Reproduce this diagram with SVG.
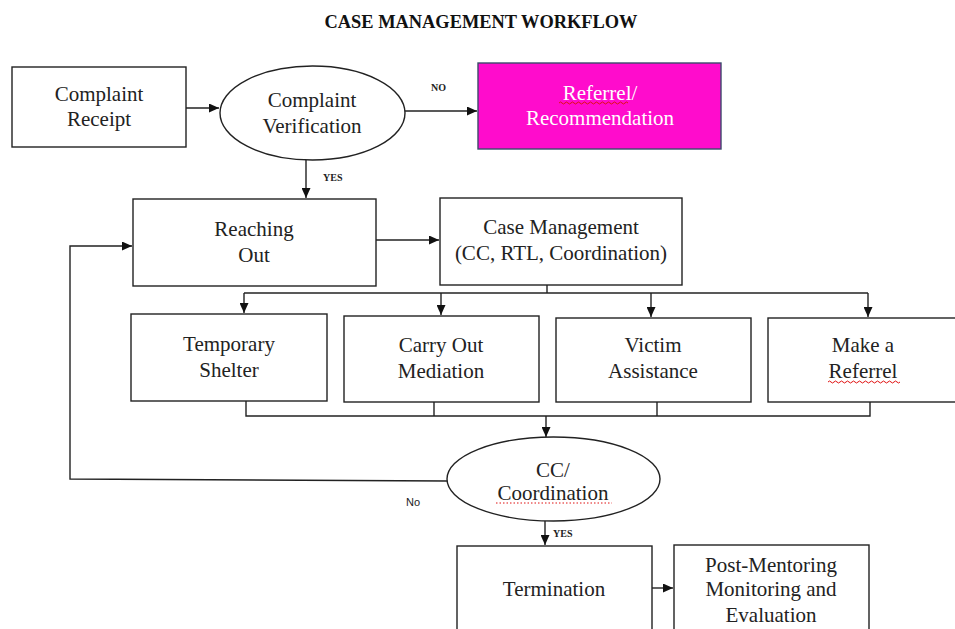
<svg xmlns="http://www.w3.org/2000/svg" width="955" height="629" viewBox="0 0 955 629">
<defs>
<marker id="ah" markerUnits="userSpaceOnUse" markerWidth="11" markerHeight="9" refX="10" refY="4.5" orient="auto">
<path d="M0,0 L10,4.5 L0,9 z" fill="#111"/>
</marker>
<style>
.box{fill:#fff;stroke:#222;stroke-width:1.4}
.lbl{font-family:"Liberation Serif","Times New Roman",serif;font-size:21px;fill:#222;text-anchor:middle}
.wht{fill:#fff}
.con{fill:none;stroke:#222;stroke-width:1.4}
.arr{marker-end:url(#ah)}
.sm{font-family:"Liberation Serif","Times New Roman",serif;font-size:10px;fill:#222;font-weight:bold}
.smsans{font-family:"Liberation Sans",Arial,sans-serif;font-size:11px;fill:#222}
.sq{fill:none;stroke:#e01010;stroke-width:1}
</style>
</defs>
<rect width="955" height="629" fill="#fff"/>
<text x="481" y="28" font-family="'Liberation Serif','Times New Roman',serif" font-size="18" font-weight="bold" text-anchor="middle" textLength="313" lengthAdjust="spacingAndGlyphs" fill="#111">CASE MANAGEMENT WORKFLOW</text>

<g id="complaint-receipt">
<rect class="box" x="12" y="67" width="174" height="80"/>
<text class="lbl" x="99" y="101">Complaint</text>
<text class="lbl" x="99" y="126">Receipt</text>
</g>
<g id="complaint-verification">
<ellipse class="box" cx="312.5" cy="113" rx="92.5" ry="47"/>
<text class="lbl" x="312" y="107">Complaint</text>
<text class="lbl" x="312" y="133">Verification</text>
</g>
<g id="referrel-recommendation">
<rect x="478" y="63" width="243" height="86" fill="#ff0ccc" stroke="#3b4a6b" stroke-width="1.4"/>
<text class="lbl wht" x="600" y="100">Referrel/</text>
<text class="lbl wht" x="600" y="125">Recommendation</text>
<path class="sq" d="M559,103 q1.5,-2 3,0 t3,0 t3,0 t3,0 t3,0 t3,0 t3,0 t3,0 t3,0 t3,0 t3,0 t3,0 t3,0 t3,0 t3,0 t3,0 t3,0 t3,0 t3,0 t3,0 t3,0 t3,0 t3,0"/>
</g>
<g id="reaching-out">
<rect class="box" x="133" y="199" width="243" height="87"/>
<text class="lbl" x="254" y="236">Reaching</text>
<text class="lbl" x="254" y="262">Out</text>
</g>
<g id="case-management">
<rect class="box" x="440" y="198" width="242" height="87"/>
<text class="lbl" x="561" y="234">Case Management</text>
<text class="lbl" x="561" y="260">(CC, RTL, Coordination)</text>
</g>
<g id="temporary-shelter">
<rect class="box" x="131" y="314" width="196" height="87"/>
<text class="lbl" x="229" y="351">Temporary</text>
<text class="lbl" x="229" y="377">Shelter</text>
</g>
<g id="carry-out-mediation">
<rect class="box" x="344" y="316" width="195" height="86"/>
<text class="lbl" x="441" y="352">Carry Out</text>
<text class="lbl" x="441" y="378">Mediation</text>
</g>
<g id="victim-assistance">
<rect class="box" x="556" y="318" width="195" height="84"/>
<text class="lbl" x="653" y="352">Victim</text>
<text class="lbl" x="653" y="378">Assistance</text>
</g>
<g id="make-a-referrel">
<rect class="box" x="768" y="318" width="192" height="84"/>
<text class="lbl" x="863" y="352">Make a</text>
<text class="lbl" x="863" y="378">Referrel</text>
<path class="sq" d="M828,382 q1.5,-2 3,0 t3,0 t3,0 t3,0 t3,0 t3,0 t3,0 t3,0 t3,0 t3,0 t3,0 t3,0 t3,0 t3,0 t3,0 t3,0 t3,0 t3,0 t3,0 t3,0 t3,0 t3,0 t3,0 t3,0"/>
</g>
<g id="cc-coordination">
<ellipse class="box" cx="553.5" cy="479" rx="106.5" ry="42"/>
<text class="lbl" x="553" y="477">CC/</text>
<text class="lbl" x="553" y="500">Coordination</text>
<line x1="496" y1="503" x2="612" y2="503" stroke="#e01010" stroke-width="1" stroke-dasharray="1.5,2"/>
</g>
<g id="termination">
<rect class="box" x="457" y="546" width="195" height="100"/>
<text class="lbl" x="554" y="596">Termination</text>
</g>
<g id="post-mentoring">
<rect class="box" x="674" y="545" width="195" height="100"/>
<text class="lbl" x="771" y="572">Post-Mentoring</text>
<text class="lbl" x="771" y="596">Monitoring and</text>
<text class="lbl" x="771" y="622">Evaluation</text>
</g>

<g id="connectors">
<line class="con arr" x1="186" y1="108" x2="219" y2="108"/>
<line class="con arr" x1="405" y1="111" x2="477" y2="111"/>
<text class="sm" x="431" y="91">NO</text>
<line class="con arr" x1="306" y1="160" x2="306" y2="198"/>
<text class="sm" x="323" y="181">YES</text>
<line class="con arr" x1="376" y1="240" x2="439" y2="240"/>
<polyline class="con" points="547,285 547,293"/>
<polyline class="con" points="244,293 868,293"/>
<line class="con arr" x1="244" y1="293" x2="244" y2="313"/>
<line class="con arr" x1="441" y1="293" x2="441" y2="315"/>
<line class="con arr" x1="651" y1="293" x2="651" y2="317"/>
<line class="con arr" x1="868" y1="293" x2="868" y2="317"/>
<polyline class="con" points="246,401 246,416 870,416 870,402"/>
<line class="con" x1="434" y1="402" x2="434" y2="416"/>
<line class="con" x1="657" y1="402" x2="657" y2="416"/>
<line class="con arr" x1="546" y1="416" x2="546" y2="437"/>
<polyline class="con arr" points="447,481 70,479 70,246 132,246"/>
<text class="smsans" x="406" y="506">No</text>
<line class="con arr" x1="545" y1="521" x2="545" y2="545"/>
<text class="sm" x="553" y="537">YES</text>
<line class="con arr" x1="652" y1="588" x2="673" y2="588"/>
</g>
</svg>
